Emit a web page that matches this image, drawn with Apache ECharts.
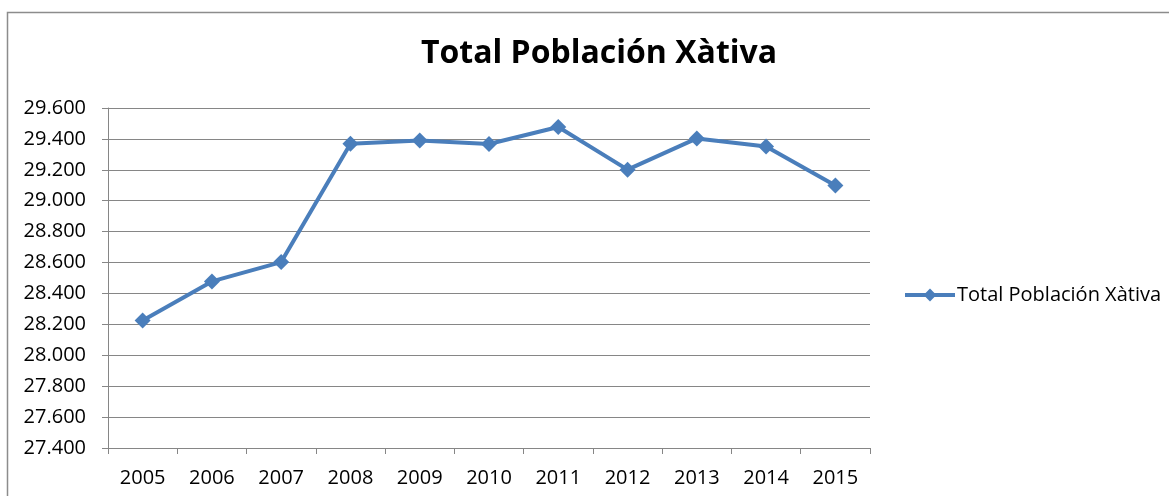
<!DOCTYPE html>
<html>
<head>
<meta charset="utf-8">
<script src="https://cdn.jsdelivr.net/npm/echarts@6/dist/echarts.min.js"></script>
<style>
html,body{margin:0;padding:0;background:#fff;}
#chart{width:1169px;height:496px;}
</style>
</head>
<body>
<div id="chart"></div>
<script>
const title = 'Total Población Xàtiva';
const seriesName = 'Total Población Xàtiva';
const years = ['2005','2006','2007','2008','2009','2010','2011','2012','2013','2014','2015'];
const population = [28225, 28478, 28603, 29369, 29390, 29367, 29477, 29201, 29403, 29351, 29099];
const yMin = 27400, yMax = 29600, yStep = 200;

const FONT = '"Open Sans", sans-serif';
function fmt(v){
  const s = String(Math.round(v));
  return s.replace(/\B(?=(\d{3})+(?!\d))/g, '.');
}
const chart = echarts.init(document.getElementById('chart'));
chart.setOption({
  animation: false,
  backgroundColor: '#ffffff',
  title: {
    text: title,
    left: 594, top: 33, textAlign: 'center',
    textStyle: {fontFamily: FONT, fontWeight: 'bold', fontSize: 32, color: '#000'}
  },
  legend: {
    data: [seriesName],
    left: 903, top: 285, padding: 0,
    itemWidth: 50, itemHeight: 16, itemGap: 0,
    lineStyle: {width: 4},
    textStyle: {fontFamily: FONT, fontSize: 20, color: '#000', padding: [0,0,0,-3]}
  },
  graphic: [{
    type: 'rect', silent: true,
    shape: {x: 7.5, y: 12.5, width: 1300, height: 700},
    style: {fill: 'none', stroke: '#8c8c8c', lineWidth: 1.5}
  }],
  grid: {left: 108, right: 299, top: 108, bottom: 48, containLabel: false},
  xAxis: {
    type: 'category', data: years, boundaryGap: true,
    axisLine: {lineStyle: {color: '#868686', width: 1}},
    axisTick: {show: true, length: 6, lineStyle: {color: '#868686'}},
    axisLabel: {fontFamily: FONT, fontSize: 20, color: '#000', margin: 20}
  },
  yAxis: {
    type: 'value', min: yMin, max: yMax, interval: yStep,
    axisLine: {show: true, lineStyle: {color: '#868686', width: 1}},
    axisTick: {show: true, length: 6, lineStyle: {color: '#868686'}},
    splitLine: {lineStyle: {color: '#868686', width: 1}},
    axisLabel: {fontFamily: FONT, fontSize: 20, color: '#000', margin: 22, formatter: fmt}
  },
  series: [{
    name: seriesName, type: 'line', data: population,
    symbol: 'diamond', symbolSize: 16,
    lineStyle: {color: '#4a7ebb', width: 4},
    itemStyle: {color: '#4a7ebb'}
  }]
});
</script>
</body>
</html>
